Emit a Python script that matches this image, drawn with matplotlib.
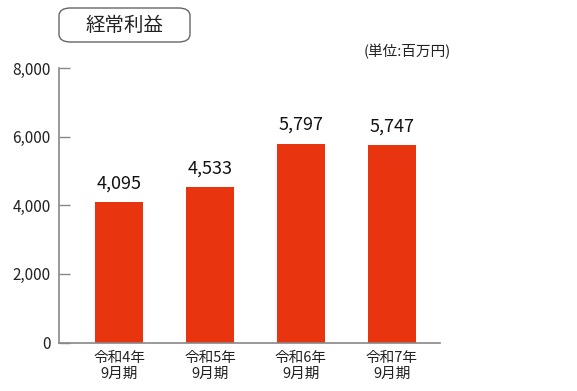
import matplotlib
matplotlib.use("Agg")
import matplotlib.pyplot as plt
from matplotlib.patches import FancyBboxPatch

plt.rcParams['font.family'] = ['Noto Sans CJK JP', 'DejaVu Sans']

categories = ["令和4年\n9月期", "令和5年\n9月期", "令和6年\n9月期", "令和7年\n9月期"]
values = [4095, 4533, 5797, 5747]
yticks = [0, 2000, 4000, 6000, 8000]
title = "経常利益"
unit = "(単位:百万円)"

fig = plt.figure(figsize=(5.77, 3.91), dpi=100)
ax = fig.add_axes([59/577, 1-342.5/391, (440-59)/577, (342.5-68)/391])

x = list(range(len(values)))
bars = ax.bar(x, values, width=0.53, color="#E8340F", zorder=2)
for xi, v in zip(x, values):
    ax.text(xi, v + 280, f"{v:,}", ha="center", va="bottom", fontsize=13, color="#111111")

ax.set_xlim(-0.66, 3.53)
ax.set_ylim(0, 8000)
ax.set_yticks(yticks)
ax.set_yticklabels([f"{t:,}" for t in yticks], fontsize=11, color="#222222")
ax.set_xticks(x)
ax.set_xticklabels(categories, fontsize=10.5, color="#222222", linespacing=1.2)
ax.tick_params(axis="y", direction="in", length=8, width=1, color="#888888", pad=6)
ax.tick_params(axis="x", length=0, pad=6)
for s in ["top", "right"]:
    ax.spines[s].set_visible(False)
for s in ["left", "bottom"]:
    ax.spines[s].set_color("#888888")
    ax.spines[s].set_linewidth(1.2)

# Title box
box = FancyBboxPatch((59/577, 1-42/391), (190-59)/577, (42-8)/391,
                     boxstyle="round,pad=0,rounding_size=0.02",
                     transform=fig.transFigure, facecolor="white",
                     edgecolor="#666666", linewidth=1.0)
fig.patches.append(box)
fig.text(124.5/577, 1-25/391, title, ha="center", va="center", fontsize=14, color="#222222")
fig.text(407/577, 1-52/391, unit, ha="center", va="center", fontsize=10.5, color="#222222")

fig.savefig("out.png", dpi=100)
